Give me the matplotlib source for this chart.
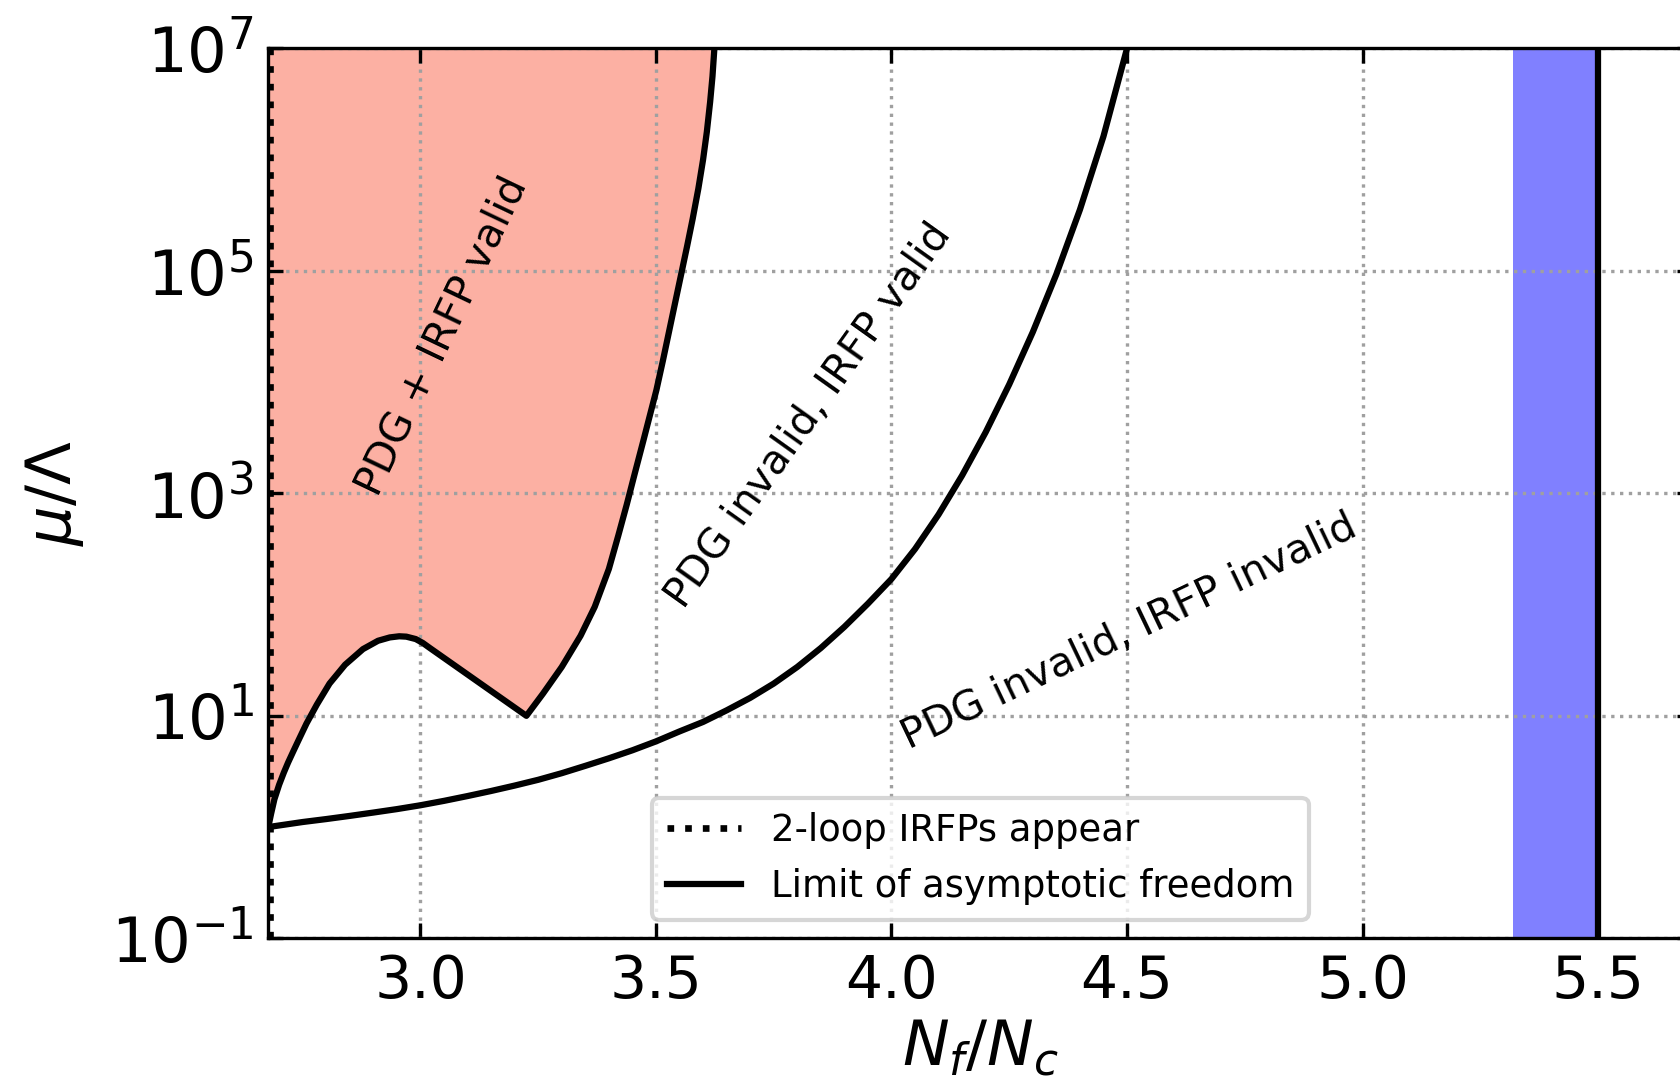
import matplotlib
matplotlib.use("Agg")
import matplotlib.pyplot as plt

# N_f/N_c where 2-loop infrared fixed points first appear, and the
# asymptotic-freedom limit
x_irfp = 2.680
x_af = 5.5
band_lo = 5.32

# Upper boundary of the region where both PDG and the IRFP are valid
pdg_x = [2.677, 2.683, 2.690, 2.700, 2.710, 2.719, 2.730, 2.740, 2.758, 2.780,
         2.807, 2.840, 2.878, 2.910, 2.935, 2.955, 2.970, 2.990, 3.005, 3.020,
         3.225, 3.260, 3.300, 3.340, 3.370, 3.400, 3.420, 3.438, 3.455, 3.473,
         3.487, 3.501, 3.515, 3.530, 3.542, 3.554, 3.566, 3.578, 3.590, 3.600,
         3.608, 3.615, 3.620, 3.624]
pdg_mu = [1.0, 1.32, 1.78, 2.40, 3.09, 3.80, 4.79, 5.89, 8.51, 12.6,
          19.5, 28.8, 39.8, 47.3, 50.7, 51.9, 51.5, 49.0, 45.2, 40.7,
          10.0, 15.8, 27.5, 52.5, 95.5, 209, 417, 794, 1.51e3, 2.95e3,
          5.01e3, 8.51e3, 1.58e4, 3.16e4, 5.50e4, 9.55e4, 1.66e5, 2.95e5, 5.50e5, 1.0e6,
          1.78e6, 3.31e6, 5.62e6, 1.0e7]

# Boundary beyond which the IRFP description breaks down
irfp_x = [2.677, 2.75, 2.80, 2.85, 2.90, 2.95, 3.00, 3.05, 3.10, 3.15,
          3.20, 3.25, 3.30, 3.35, 3.40, 3.45, 3.50, 3.55, 3.60, 3.65,
          3.70, 3.75, 3.80, 3.85, 3.90, 3.95, 4.00, 4.05, 4.10, 4.15,
          4.20, 4.25, 4.30, 4.35, 4.40, 4.45, 4.50]
irfp_mu = [1.0, 1.11, 1.18, 1.26, 1.35, 1.45, 1.57, 1.72, 1.90, 2.11,
           2.36, 2.66, 3.05, 3.55, 4.15, 4.90, 5.89, 7.24, 8.81, 11.2,
           14.5, 19.5, 27.5, 40.7, 63.1, 102, 170, 316, 646, 1.45e3,
           3.55e3, 9.55e3, 2.82e4, 9.33e4, 3.55e5, 1.62e6, 1.0e7]

x_ticks = [3.0, 3.5, 4.0, 4.5, 5.0, 5.5]
y_ticks = [1e-1, 1e1, 1e3, 1e5, 1e7]

region_labels = ["PDG + IRFP valid", "PDG invalid, IRFP valid",
                 "PDG invalid, IRFP invalid"]
label_x = [3.047, 3.826, 4.505]
label_mu = [2.6e4, 5.0e3, 57]
label_rot = [64.5, 54.5, 25.5]

fig = plt.figure(figsize=(5.6, 3.63), dpi=300)
ax = fig.add_axes([0.1597, 0.1384, 1.0073 - 0.1597, 0.9555 - 0.1384])

ax.set_yscale("log")
ax.set_xlim(2.677, 5.70)
ax.set_ylim(1e-1, 1e7)

ax.fill_between(pdg_x, pdg_mu, 1e7, facecolor="#fcb0a3", edgecolor="none", zorder=1)
ax.axvspan(band_lo, x_af, facecolor="#8080ff", edgecolor="none", zorder=1)

ax.plot(pdg_x, pdg_mu, color="k", lw=1.5, zorder=3)
ax.plot(irfp_x, irfp_mu, color="k", lw=1.5, zorder=3)

ax.axvline(x_irfp, color="k", ls=":", lw=1.6, zorder=3, label="2-loop IRFPs appear")
ax.axvline(x_af, color="k", ls="-", lw=1.5, zorder=3, label="Limit of asymptotic freedom")

for txt, xx, yy, rot in zip(region_labels, label_x, label_mu, label_rot):
    ax.text(xx, yy, txt, rotation=rot, ha="center", va="center", fontsize=9.8)

ax.set_xticks(x_ticks)
ax.set_yticks(y_ticks)
ax.yaxis.set_minor_locator(matplotlib.ticker.NullLocator())
ax.tick_params(axis="both", which="both", direction="in", top=True, right=True)
ax.tick_params(axis="x", labelsize=14)
ax.tick_params(axis="y", labelsize=15)
ax.grid(True, ls=":", color="#a0a0a0", lw=0.8)

ax.set_xlabel(r"$N_f/N_c$", fontsize=15, labelpad=2)
ax.set_ylabel(r"$\mu/\Lambda$", fontsize=15, labelpad=6)

ax.legend(loc="lower center", fontsize=8.9)

fig.savefig("out.png", dpi=300)
